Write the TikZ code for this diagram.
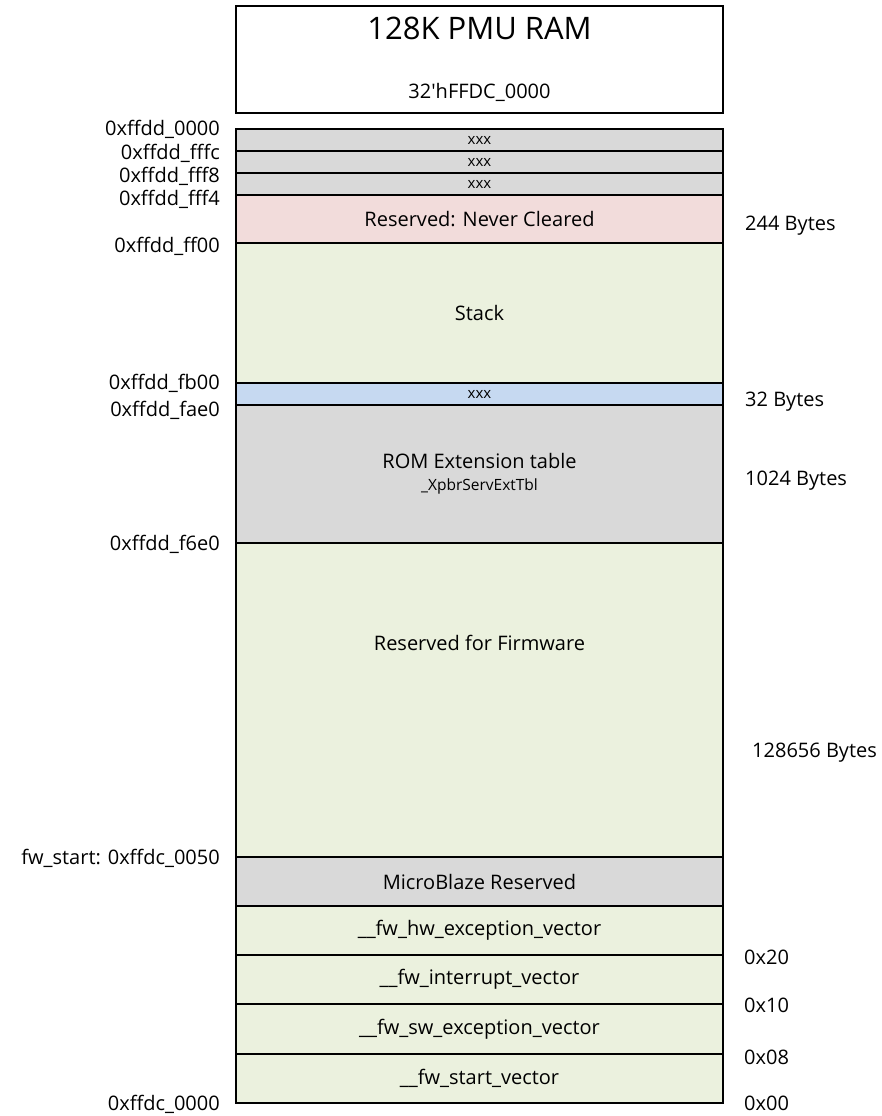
\documentclass[tikz,border=0pt]{standalone}
\usepackage{fontspec}
\setmainfont{Open Sans}

\definecolor{memgray}{HTML}{D9D9D9}
\definecolor{mempink}{HTML}{F2DCDB}
\definecolor{memgreen}{HTML}{EBF1DE}
\definecolor{memblue}{HTML}{C6D9F1}

\tikzset{
  memrow/.style={draw=black, line width=2pt, minimum width=487pt,
    inner sep=0pt, outer sep=0pt, anchor=north, align=center},
  addrlbl/.style={font=\fontsize{20}{24}\selectfont, anchor=base east, inner sep=0pt},
  sizelbl/.style={font=\fontsize{20}{24}\selectfont, anchor=base west, inner sep=0pt},
}

\begin{document}
\begin{tikzpicture}[x=1pt, y=-1pt]
  \useasboundingbox (0,0) rectangle (882,1116);

  % ---- header box ----
  \node[memrow, minimum height=107pt] (ramhdr) at (479.5, 6) {};
  \node[font=\fontsize{31}{36}\selectfont] (ramtitle) at (479.5, 28) {128K PMU RAM};
  \node[font=\fontsize{20}{24}\selectfont] (rambase) at (479.5, 92) {32\textquotesingle hFFDC\_0000};

  % ---- memory rows: name / top / bottom / fill / font size / text ----
  \foreach \n/\ya/\yb/\c/\fs/\txt in {%
    xa/129/151/memgray/15/xxx,%
    xb/151/173/memgray/15/xxx,%
    xc/173/195/memgray/15/xxx,%
    rsv/195/243/mempink/20/Reserved: Never Cleared,%
    stk/243/383/memgreen/20/Stack,%
    xd/383/405/memblue/15/xxx,%
    rom/405/543/memgray/20/{ROM Extension table\\{\fontsize{15.5}{18}\selectfont\_XpbrServExtTbl}},%
    fw/543/857/memgreen/20/{},%
    mb/857/906/memgray/20/MicroBlaze Reserved,%
    hwv/906/955/memgreen/20/\_\_fw\_hw\_exception\_vector,%
    irqv/955/1004/memgreen/20/\_\_fw\_interrupt\_vector,%
    swv/1004/1054/memgreen/20/\_\_fw\_sw\_exception\_vector,%
    startv/1054/1103/memgreen/20/\_\_fw\_start\_vector}{%
    \node[memrow, fill=\c, minimum height={(\yb-\ya)*1pt},
          font=\fontsize{\fs}{22.5}\selectfont] (\n) at (479.5, \ya) {\txt};
  }
  \node[font=\fontsize{20}{24}\selectfont] (fwtxt) at (479.5, 643) {Reserved for Firmware};

  % ---- addresses (left) ----
  \foreach \y/\txt [count=\k] in {%
    128/0xffdd\_0000, 152/0xffdd\_fffc, 175/0xffdd\_fff8, 198/0xffdd\_fff4,%
    245/0xffdd\_ff00, 382/0xffdd\_fb00, 409/0xffdd\_fae0, 543/0xffdd\_f6e0,%
    857/fw\_start: 0xffdc\_0050, 1103/0xffdc\_0000}{%
    \node[addrlbl] (addr\k) at (220, \y+7) {\txt};
  }

  % ---- sizes and offsets (right) ----
  \foreach \x/\y/\txt [count=\k] in {%
    745/223/244 Bytes, 745/399/32 Bytes, 745/478/1024 Bytes,%
    752/750/128656 Bytes,%
    744/957/0x20, 744/1005/0x10, 744/1057/0x08, 744/1103/0x00}{%
    \node[sizelbl] (size\k) at (\x, \y+7) {\txt};
  }
\end{tikzpicture}
\end{document}
